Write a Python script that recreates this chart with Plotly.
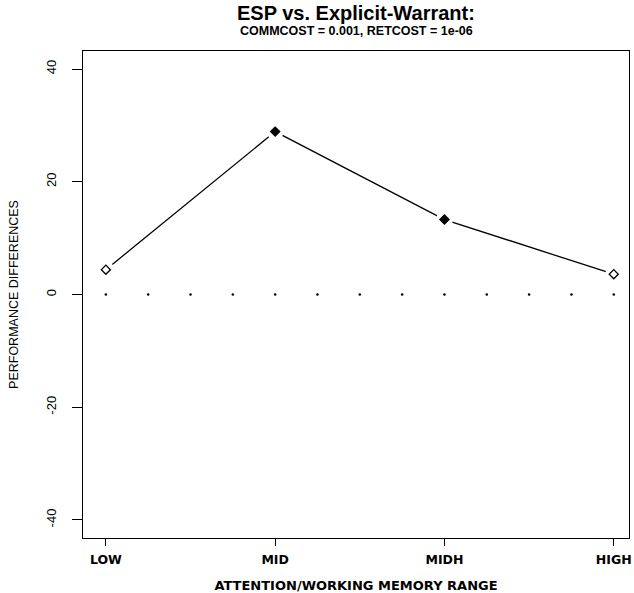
import plotly.graph_objects as go

categories = ["LOW", "MID", "MIDH", "HIGH"]
cat_pos = [1, 2, 3, 4]
perf_diff = [4.4, 28.9, 13.3, 3.6]
filled = [False, True, True, False]
zero_x = [1, 1.25, 1.5, 1.75, 2, 2.25, 2.5, 2.75, 3, 3.25, 3.5, 3.75, 4]
zero_y = [0] * len(zero_x)
y_ticks = [-40, -20, 0, 20, 40]
y_tick_labels = ["-40", "-20", "0", "20", "40"]

FONT = "Liberation Sans, Arial, Helvetica, sans-serif"
BOLDW = "DejaVu Sans, Liberation Sans, sans-serif"

fig = go.Figure()

fig.add_trace(go.Scatter(x=zero_x, y=zero_y, mode="markers",
                         marker=dict(size=2.5, color="black"),
                         hoverinfo="skip", showlegend=False))
fig.add_trace(go.Scatter(x=cat_pos, y=perf_diff, mode="lines",
                         line=dict(color="black", width=1.3),
                         showlegend=False))
fig.add_trace(go.Scatter(x=cat_pos, y=perf_diff, mode="markers",
                         marker=dict(size=17, color="white", symbol="circle"),
                         hoverinfo="skip", showlegend=False))
fig.add_trace(go.Scatter(
    x=cat_pos, y=perf_diff, mode="markers",
    marker=dict(size=7, symbol="diamond",
                color=["black" if f else "white" for f in filled],
                line=dict(color="black", width=1.3)),
    showlegend=False))

fig.add_annotation(text="<b>ESP vs. Explicit-Warrant:</b>", xref="paper", yref="paper",
                   x=0.5, y=1, yshift=38, xanchor="center", yanchor="middle",
                   showarrow=False, font=dict(size=20, family=FONT, color="black"))
fig.add_annotation(text="<b>COMMCOST = 0.001, RETCOST = 1e-06</b>", xref="paper", yref="paper",
                   x=0.5, y=1, yshift=20, xanchor="center", yanchor="middle",
                   showarrow=False, font=dict(size=12.5, family=FONT, color="black"))

fig.update_layout(
    width=634, height=593,
    margin=dict(l=83, r=5, t=51, b=55, autoexpand=False),
    paper_bgcolor="white", plot_bgcolor="white",
    font=dict(family=FONT, color="black"),
    xaxis=dict(
        range=[0.865, 4.09],
        tickvals=cat_pos, ticktext=["<b>%s</b>" % c for c in categories],
        ticks="outside", ticklen=7, tickwidth=1.2, tickcolor="black",
        ticklabelstandoff=3,
        showline=True, linecolor="black", linewidth=1.3, mirror=True,
        showgrid=False, zeroline=False,
        tickfont=dict(size=12.5, family=BOLDW),
        title=dict(text="<b>ATTENTION/WORKING MEMORY RANGE</b>",
                   font=dict(size=13, family=BOLDW), standoff=14),
    ),
    yaxis=dict(
        range=[-43.2, 43.2],
        tickvals=y_ticks, ticktext=y_tick_labels, tickangle=-90,
        ticks="outside", ticklen=10, tickwidth=1.2, tickcolor="black",
        ticklabelstandoff=11,
        showline=True, linecolor="black", linewidth=1.3, mirror=True,
        showgrid=False, zeroline=False,
        tickfont=dict(size=13, family=FONT),
        title=dict(text="PERFORMANCE DIFFERENCES",
                   font=dict(size=12.5, family=FONT), standoff=22),
    ),
)

fig.write_html("out.html", config={"displayModeBar": False},
               post_script="document.body.style.margin='0';document.body.style.padding='0';")
